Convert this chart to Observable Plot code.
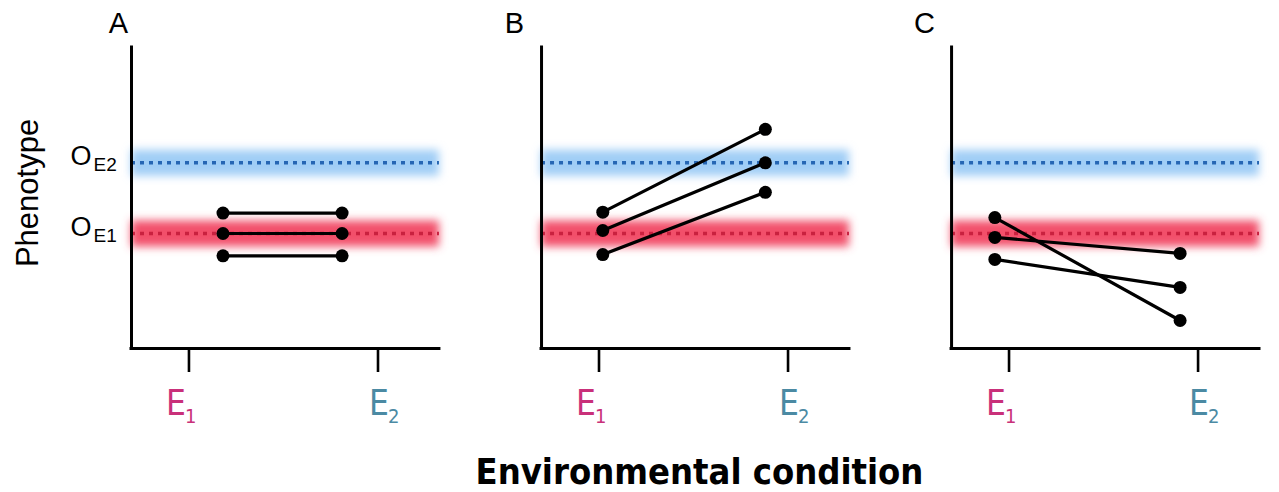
<!DOCTYPE html>
<html>
<head>
<meta charset="utf-8">
<script src="https://cdn.jsdelivr.net/npm/d3@7"></script>
<script src="https://cdn.jsdelivr.net/npm/@observablehq/plot@0.6"></script>
<style>
  body { margin: 0; background: #fff; }
  #chart { width: 1279px; }
  #chart svg g[aria-label="x-axis tick"] { stroke-width: 2.6; }
  .caption {
    position: relative;
    left: 60px;
    width: 1279px;
    height: 40px;
    padding-top: 22px;
    line-height: 40px;
    text-align: center;
    font-family: "Liberation Sans Narrow", "Arial Narrow", "DejaVu Sans Condensed", sans-serif;
    font-stretch: condensed;
    font-weight: bold;
    font-size: 36px;
    color: #000;
  }
</style>
</head>
<body>
<div id="chart"></div>
<div class="caption">Environmental condition</div>
<script>
// Panels: A = no plasticity, B = adaptive plasticity, C = maladaptive plasticity
const panels = ["A", "B", "C"];
const genotypes = ["g1", "g2", "g3"];

// Where each panel samples the two environments (E1 tick = 1, E2 tick = 2)
const e1Position = [1.18, 1.02, 0.925];
const e2Position = [1.81, 1.88, 1.905];

// Phenotype of each genotype in E1 and in E2
const phenotypeE1A = [45.0, 38.2, 30.8];
const phenotypeE2A = [45.0, 38.2, 30.8];
const phenotypeE1B = [45.3, 39.2, 31.2];
const phenotypeE2B = [72.8, 61.7, 51.9];
const phenotypeE1C = [43.5, 36.9, 29.6];
const phenotypeE2C = [9.3, 31.6, 20.3];

// Optimal phenotype in each environment
const optimumE1 = 38.2;
const optimumE2 = 61.7;

// Environment ticks and their labels
const envTicks = [1, 2];
const envLetters = ["E", "E"];
const envSubscripts = ["1", "2"];

const envDomain = [0.696, 2.325];
const phenoDomain = [0, 100];

const pheno = {
  A: [phenotypeE1A, phenotypeE2A],
  B: [phenotypeE1B, phenotypeE2B],
  C: [phenotypeE1C, phenotypeE2C]
};

const rows = [];
panels.forEach((p, i) => {
  genotypes.forEach((g, j) => {
    rows.push({panel: p, genotype: g, env: "E1", x: e1Position[i], y: pheno[p][0][j]});
    rows.push({panel: p, genotype: g, env: "E2", x: e2Position[i], y: pheno[p][1][j]});
  });
});

const optimumLabels = [
  {panel: "A", y: optimumE2, sub: "E2"},
  {panel: "A", y: optimumE1, sub: "E1"}
];
const envLabels = envTicks.map((t, i) => ({x: t, letter: envLetters[i], sub: envSubscripts[i]}));
const e1Label = envLabels.filter(d => d.x === 1);
const e2Label = envLabels.filter(d => d.x === 2);

const narrow = '"Liberation Sans Narrow", "Arial Narrow", "DejaVu Sans Condensed", sans-serif';

// one environment label: main letter plus subscript digit
const envLabelMarks = (data, color, dx) => [
  Plot.text(data, {x: "x", text: "letter", fill: color, frameAnchor: "bottom", textAnchor: "middle", lineAnchor: "bottom", dx: dx, dy: 66, fontSize: 35, fontFamily: narrow}),
  Plot.text(data, {x: "x", text: "sub", fill: color, frameAnchor: "bottom", textAnchor: "start", lineAnchor: "bottom", dx: dx + 9, dy: 74, fontSize: 20, fontFamily: narrow})
];

const chart = Plot.plot({
  width: 1279,
  height: 430,
  marginTop: 47,
  marginBottom: 82,
  marginLeft: 131,
  marginRight: 20,
  style: {fontFamily: "Liberation Sans, Arial, sans-serif", background: "white", color: "black", overflow: "visible"},
  fx: {domain: panels, paddingInner: 0.249, paddingOuter: 0, round: false, axis: null},
  x: {domain: envDomain, ticks: envTicks, tickSize: 24, tickFormat: () => "", label: null},
  y: {domain: phenoDomain, axis: null},
  marks: [
    // soft bands around the optima
    Plot.ruleY([optimumE2], {stroke: "#a0cef6", strokeWidth: 26, ariaDescription: "optimum band"}),
    Plot.ruleY([optimumE1], {stroke: "#f2506a", strokeWidth: 26, ariaDescription: "optimum band"}),
    // dotted optimum lines
    Plot.ruleY([optimumE2], {stroke: "#2566b4", strokeWidth: 3.5, strokeDasharray: "4,5"}),
    Plot.ruleY([optimumE1], {stroke: "#c9213f", strokeWidth: 3.5, strokeDasharray: "4,5"}),
    // axis lines
    Plot.ruleX([envDomain[0]], {stroke: "black", strokeWidth: 3, strokeLinecap: "square"}),
    Plot.ruleY([phenoDomain[0]], {stroke: "black", strokeWidth: 3, strokeLinecap: "square"}),
    // reaction norms
    Plot.line(rows, {x: "x", y: "y", z: d => d.panel + d.genotype, fx: "panel", stroke: "black", strokeWidth: 3.2}),
    Plot.dot(rows, {x: "x", y: "y", fx: "panel", r: 6.5, fill: "black"}),
    // panel letters
    Plot.text(["A"], {fx: d => d, text: d => d, frameAnchor: "top-left", textAnchor: "middle", lineAnchor: "middle", dx: -13, dy: -24, fontSize: 29}),
    Plot.text(["B", "C"], {fx: d => d, text: d => d, frameAnchor: "top-left", textAnchor: "middle", lineAnchor: "middle", dx: -27, dy: -24, fontSize: 29}),
    // y label
    Plot.text(["A"], {fx: d => d, text: () => "Phenotype", frameAnchor: "left", textAnchor: "middle", lineAnchor: "middle", rotate: -90, dx: -103, dy: -5, fontSize: 31}),
    // optimum labels O_E1, O_E2
    Plot.text(optimumLabels, {fx: "panel", y: "y", text: () => "O", frameAnchor: "left", textAnchor: "start", lineAnchor: "middle", dx: -61, dy: -6, fontSize: 27}),
    Plot.text(optimumLabels, {fx: "panel", y: "y", text: "sub", frameAnchor: "left", textAnchor: "start", lineAnchor: "bottom", dx: -38, dy: 8, fontSize: 19}),
    // environment labels
    ...envLabelMarks(e1Label, "#c9307a", -13),
    ...envLabelMarks(e2Label, "#4b8aa3", 1)
  ]
});

// blur the optimum bands
const ns = "http://www.w3.org/2000/svg";
const defs = document.createElementNS(ns, "defs");
defs.innerHTML = '<filter id="band-soft" filterUnits="userSpaceOnUse" x="-100" y="-100" width="1500" height="700"><feGaussianBlur stdDeviation="4"/></filter>';
chart.prepend(defs);
chart.querySelectorAll('[aria-description="optimum band"]').forEach(g => g.setAttribute("filter", "url(#band-soft)"));

document.getElementById("chart").append(chart);
</script>
</body>
</html>
